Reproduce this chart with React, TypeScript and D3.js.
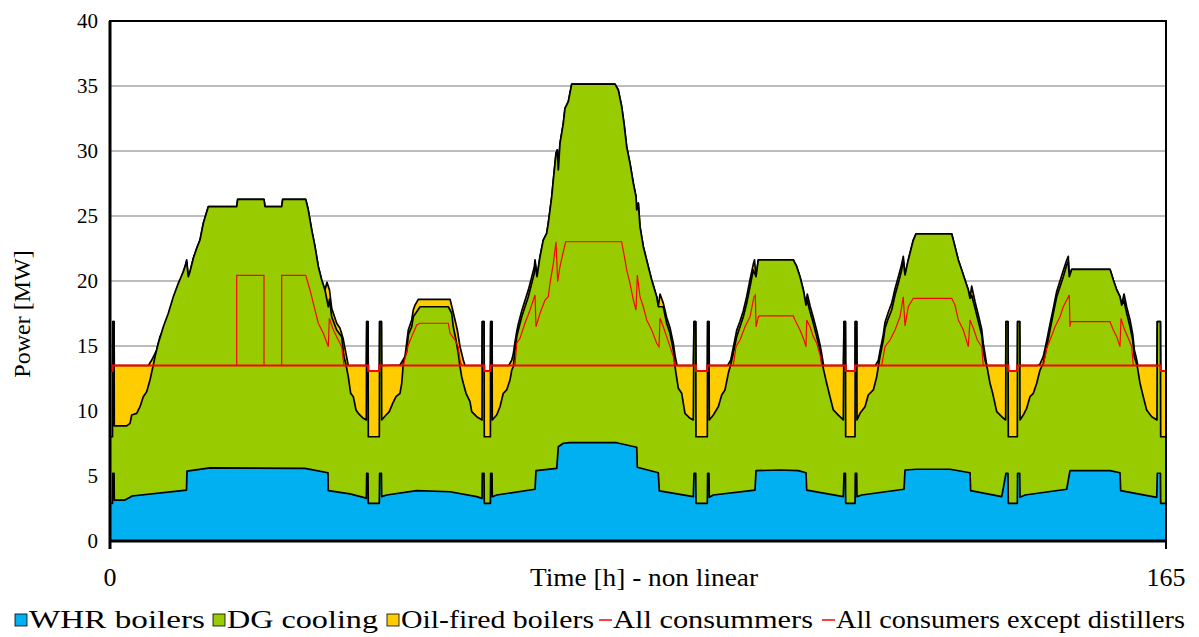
import React from "react";
import * as d3 from "d3";

type P = [number, number];

// y axis ticks (MW) and x axis labels (h)
const yTicks = [0, 5, 10, 15, 20, 25, 30, 35, 40];
const xTickLabels: [number, string][] = [[0, "0"], [165, "165"]];

// WHR boilers output [h, MW]
const whrBoilers: P[] = [
  [0, 2.9], [0.39, 2.9], [0.44, 5.21], [0.63, 5.21], [0.67, 3.15], [2.34, 3.15], [3.13, 3.36], [3.44, 3.46],
  [11.95, 3.92], [12.03, 5.38], [15.63, 5.62], [30.47, 5.59], [34.06, 5.25], [34.11, 3.87], [37.5, 3.62],
  [39.58, 3.36], [40.05, 3.28], [40.11, 5.21], [40.31, 5.21], [40.36, 2.9], [42.08, 2.9], [42.13, 5.21],
  [42.41, 5.21], [42.45, 3.41], [43.23, 3.54], [47.92, 3.87], [53.13, 3.79], [57.3, 3.41], [58.13, 3.28],
  [58.17, 5.21], [58.44, 5.21], [58.48, 2.9], [59.44, 2.9], [59.48, 5.21], [59.69, 5.21], [59.73, 3.41],
  [60.42, 3.54], [66.41, 3.98], [66.56, 5.41], [69.8, 5.59], [70.05, 7.25], [70.83, 7.52], [71.88, 7.56],
  [79.17, 7.56], [82.3, 7.21], [82.39, 5.67], [85.67, 5.25], [85.83, 3.85], [91.14, 3.41], [91.25, 5.21],
  [91.52, 5.21], [91.56, 2.9], [93.33, 2.9], [93.38, 5.21], [93.59, 5.21], [93.64, 3.36], [94.27, 3.54],
  [100.78, 3.92], [100.94, 5.41], [104.69, 5.46], [107.55, 5.41], [108.75, 5.25], [108.86, 3.92],
  [114.58, 3.41], [114.69, 5.21], [114.91, 5.21], [114.95, 2.9], [116.41, 2.9], [116.45, 5.21], [116.67, 5.21],
  [116.72, 3.41], [117.45, 3.54], [124.06, 3.98], [124.22, 5.46], [126.05, 5.52], [131.25, 5.52],
  [134.38, 5.25], [134.48, 3.87], [139.33, 3.41], [140.0, 5.21], [140.31, 5.21], [140.36, 2.9], [141.77, 2.9],
  [141.81, 5.21], [142.14, 5.21], [142.19, 3.36], [142.97, 3.54], [149.48, 3.98], [150.0, 5.41],
  [156.25, 5.41], [157.81, 5.25], [157.92, 3.87], [163.55, 3.36], [163.64, 5.21], [164.13, 5.21],
  [164.17, 2.9], [165, 2.9],
];

// WHR boilers + DG cooling (stacked level) [h, MW]
const dgCoolingTop: P[] = [
  [0, 8.02], [0.39, 8.02], [0.44, 16.87], [0.63, 16.87], [0.67, 8.85], [2.61, 8.85], [3.13, 9.05], [3.39, 9.69],
  [4.17, 9.82], [4.69, 10.33], [5.2, 11.1], [5.73, 11.48], [6.25, 12.38], [6.52, 13.0], [6.77, 13.54],
  [7.03, 14.18], [7.55, 15.21], [8.33, 16.48], [9.11, 17.52], [9.89, 18.79], [10.67, 19.82], [11.45, 20.72],
  [11.98, 21.48], [12.23, 20.33], [12.5, 20.72], [13.02, 21.75], [13.55, 22.52], [14.06, 23.15], [14.58, 24.44],
  [15.36, 25.72], [19.8, 25.72], [19.95, 26.28], [24.06, 26.28], [24.22, 25.72], [26.83, 25.72], [26.98, 26.28],
  [30.58, 26.28], [30.98, 25.46], [31.52, 23.92], [32.03, 22.64], [32.55, 21.1], [33.08, 20.08], [33.59, 19.31],
  [34.11, 18.02], [34.3, 18.6], [34.64, 17.25], [35.42, 16.23], [36.2, 15.72], [36.56, 14.18], [36.88, 13.54],
  [37.23, 12.64], [37.61, 11.36], [38.02, 11.1], [38.44, 10.08], [38.8, 9.82], [39.58, 9.44], [40.05, 9.31],
  [40.11, 16.87], [40.31, 16.87], [40.36, 8.02], [42.08, 8.02], [42.13, 16.87], [42.41, 16.87], [42.45, 9.31],
  [43.13, 9.69], [43.64, 9.95], [44.17, 10.59], [44.69, 11.1], [45.31, 11.36], [45.58, 12.13], [45.73, 13.02],
  [45.83, 13.79], [46.36, 14.56], [46.61, 15.85], [47.14, 16.48], [47.39, 17.25], [47.92, 17.64], [48.44, 18.02],
  [52.86, 18.02], [53.39, 17.52], [53.64, 16.48], [54.06, 15.46], [54.42, 14.44], [54.69, 13.41], [54.95, 12.64],
  [55.2, 12.13], [55.63, 11.36], [56.25, 10.72], [56.52, 9.95], [57.3, 9.56], [58.13, 9.31], [58.17, 16.87],
  [58.44, 16.87], [58.48, 8.02], [59.44, 8.02], [59.48, 16.87], [59.69, 16.87], [59.73, 9.31], [60.42, 9.69],
  [60.94, 10.33], [61.45, 11.36], [61.98, 11.62], [62.5, 12.38], [62.77, 13.15], [63.02, 13.41], [63.28, 14.69],
  [63.55, 15.72], [63.8, 16.23], [64.33, 17.25], [64.84, 18.02], [65.36, 18.79], [65.89, 19.82], [66.3, 20.6],
  [66.41, 21.48], [66.72, 20.33], [67.19, 21.87], [67.7, 23.15], [68.23, 23.67], [68.48, 24.44], [68.75, 25.46],
  [69.02, 26.48], [69.27, 27.77], [69.69, 29.82], [69.89, 30.08], [70.05, 28.54], [70.31, 30.59], [70.83, 32.13],
  [71.09, 33.28], [71.61, 33.79], [72.14, 35.15], [78.91, 35.15], [79.42, 34.69], [79.95, 33.41], [80.31, 32.13],
  [80.73, 30.33], [81.25, 29.05], [81.77, 27.52], [82.19, 26.48], [82.3, 25.46], [82.55, 26.0], [82.81, 24.18],
  [83.33, 22.64], [84.11, 21.1], [84.64, 20.08], [85.42, 18.79], [85.67, 18.02], [86.45, 18.02], [86.98, 16.75],
  [87.5, 15.98], [88.02, 14.69], [88.28, 13.41], [88.8, 11.75], [89.33, 11.36], [89.84, 9.82], [90.63, 9.44],
  [91.14, 9.31], [91.25, 16.87], [91.52, 16.87], [91.56, 8.02], [93.33, 8.02], [93.38, 16.87], [93.59, 16.87],
  [93.64, 9.31], [94.27, 9.69], [95.05, 10.33], [95.58, 11.23], [96.09, 11.62], [96.61, 12.9], [96.98, 13.54],
  [97.39, 14.44], [97.92, 15.72], [98.44, 16.48], [98.95, 17.25], [99.48, 18.28], [100.0, 19.56], [100.52, 20.85],
  [100.94, 20.33], [101.3, 21.62], [106.77, 21.62], [107.3, 21.1], [107.81, 20.33], [108.33, 19.31],
  [108.75, 18.15], [108.95, 18.5], [109.38, 17.64], [109.89, 16.75], [110.42, 15.72], [110.94, 14.69],
  [111.2, 13.92], [111.45, 13.28], [111.98, 12.13], [112.5, 11.1], [113.02, 10.08], [113.8, 9.69], [114.58, 9.31],
  [114.69, 16.87], [114.91, 16.87], [114.95, 8.02], [116.41, 8.02], [116.45, 16.87], [116.67, 16.87],
  [116.72, 9.31], [117.19, 9.82], [117.97, 10.33], [118.48, 11.23], [119.27, 11.62], [119.8, 12.64],
  [120.05, 13.41], [120.31, 14.18], [120.83, 15.46], [121.09, 16.36], [121.61, 17.13], [122.14, 17.77],
  [122.66, 18.92], [123.17, 19.82], [123.7, 20.85], [123.95, 21.62], [124.22, 20.46], [124.73, 21.62],
  [125.52, 23.15], [125.94, 23.62], [131.52, 23.62], [132.03, 22.64], [132.55, 21.62], [133.08, 20.85],
  [133.59, 20.08], [134.11, 19.31], [134.38, 18.67], [134.64, 18.9], [135.16, 17.92], [135.67, 16.9],
  [136.2, 15.87], [136.45, 14.69], [136.72, 13.92], [137.08, 13.28], [137.5, 12.13], [137.92, 11.36],
  [138.55, 9.95], [139.33, 9.56], [139.95, 9.31], [140.0, 16.87], [140.31, 16.87], [140.36, 8.02],
  [141.77, 8.02], [141.81, 16.87], [142.14, 16.87], [142.19, 9.31], [142.7, 9.69], [143.23, 10.21],
  [143.75, 11.1], [144.27, 11.36], [144.8, 12.13], [145.31, 13.15], [145.83, 13.67], [146.36, 14.95],
  [146.88, 16.23], [147.39, 17.52], [147.92, 18.79], [148.44, 19.56], [148.95, 20.33], [149.48, 21.23],
  [149.73, 21.48], [149.89, 20.33], [150.27, 20.9], [156.25, 20.9], [156.77, 20.08], [157.3, 19.31],
  [157.81, 18.79], [158.08, 18.15], [158.44, 18.5], [158.86, 17.52], [159.38, 16.48], [159.8, 15.46],
  [160.05, 14.18], [160.31, 13.79], [160.52, 13.41], [160.94, 12.13], [161.45, 11.1], [161.98, 10.08],
  [162.77, 9.56], [163.59, 9.31], [163.64, 16.87], [164.13, 16.87], [164.17, 8.02], [165, 8.02],
];

// WHR + DG + Oil-fired boilers (total stacked level) [h, MW]
const oilFiredTop: P[] = [
  [0, 13.08], [0.39, 13.08], [0.44, 16.87], [0.63, 16.87], [0.67, 13.5], [6.0, 13.5], [6.52, 13.92],
  [7.29, 14.69], [7.81, 15.72], [8.59, 16.48], [9.38, 17.77], [10.16, 18.92], [10.94, 19.95], [11.72, 21.1],
  [11.98, 21.62], [12.23, 20.33], [12.5, 20.72], [13.02, 21.75], [13.55, 22.52], [14.06, 23.15], [14.58, 24.44],
  [15.36, 25.72], [19.8, 25.72], [19.95, 26.28], [24.06, 26.28], [24.22, 25.72], [26.83, 25.72], [26.98, 26.28],
  [30.58, 26.28], [30.98, 25.46], [31.52, 23.92], [32.03, 22.64], [32.55, 21.1], [33.08, 20.08], [33.59, 19.31],
  [33.9, 19.9], [34.3, 19.3], [34.64, 17.9], [35.42, 16.75], [35.94, 16.36], [36.41, 15.6], [36.88, 14.4],
  [37.23, 13.5], [40.05, 13.5], [40.11, 16.87], [40.31, 16.87], [40.36, 13.08], [42.08, 13.08], [42.13, 16.87],
  [42.41, 16.87], [42.45, 13.5], [45.31, 13.54], [46.09, 14.18], [46.61, 16.23], [47.14, 17.0], [47.39, 17.77],
  [47.66, 18.15], [48.17, 18.59], [53.13, 18.59], [53.39, 18.08], [53.91, 17.0], [54.27, 16.23], [54.69, 14.95],
  [55.2, 13.92], [55.47, 13.5], [58.13, 13.5], [58.17, 16.87], [58.44, 16.87], [58.48, 13.08], [59.44, 13.08],
  [59.48, 16.87], [59.69, 16.87], [59.73, 13.5], [62.3, 13.5], [62.77, 13.9], [63.02, 14.4], [63.28, 15.3],
  [63.55, 16.1], [63.8, 16.7], [64.33, 17.7], [64.84, 18.5], [65.36, 19.3], [65.89, 20.3], [66.3, 21.1],
  [66.41, 21.62], [66.72, 20.33], [67.19, 21.87], [67.7, 23.15], [68.23, 23.67], [68.48, 24.44], [68.75, 25.46],
  [69.02, 26.48], [69.27, 27.77], [69.69, 29.82], [69.89, 30.08], [70.05, 28.54], [70.31, 30.59], [70.83, 32.13],
  [71.09, 33.28], [71.61, 33.79], [72.14, 35.15], [78.91, 35.15], [79.42, 34.69], [79.95, 33.41], [80.31, 32.13],
  [80.73, 30.33], [81.25, 29.05], [81.77, 27.52], [82.19, 26.48], [82.3, 25.46], [82.55, 26.0], [82.81, 24.18],
  [83.33, 22.64], [84.11, 21.1], [84.64, 20.08], [85.42, 18.79], [85.67, 18.02], [85.94, 19.0], [86.45, 18.3],
  [86.98, 17.2], [87.5, 16.4], [88.02, 15.2], [88.28, 14.3], [88.6, 13.5], [91.14, 13.5], [91.25, 16.87],
  [91.52, 16.87], [91.56, 13.08], [93.33, 13.08], [93.38, 16.87], [93.59, 16.87], [93.64, 13.5], [96.5, 13.5],
  [96.98, 13.9], [97.39, 14.9], [97.92, 16.2], [98.44, 16.9], [98.95, 17.7], [99.48, 18.8], [100.0, 20.1],
  [100.52, 21.3], [100.7, 21.62], [100.94, 20.33], [101.3, 21.62], [106.77, 21.62], [107.3, 21.1],
  [107.81, 20.33], [108.33, 19.31], [108.75, 18.15], [108.95, 19.0], [109.38, 18.1], [109.89, 17.2],
  [110.42, 16.2], [110.94, 15.1], [111.2, 14.4], [111.5, 13.5], [114.58, 13.5], [114.69, 16.87],
  [114.91, 16.87], [114.95, 13.08], [116.41, 13.08], [116.45, 16.87], [116.67, 16.87], [116.72, 13.5],
  [119.6, 13.5], [120.05, 13.9], [120.31, 14.6], [120.83, 15.9], [121.09, 16.8], [121.61, 17.6], [122.14, 18.3],
  [122.66, 19.4], [123.17, 20.3], [123.7, 21.3], [123.95, 21.9], [124.22, 20.46], [124.73, 21.62],
  [125.52, 23.15], [125.94, 23.62], [131.52, 23.62], [132.03, 22.64], [132.55, 21.62], [133.08, 20.85],
  [133.59, 20.08], [134.11, 19.31], [134.38, 18.67], [134.64, 19.6], [135.16, 18.4], [135.67, 17.4],
  [136.2, 16.3], [136.45, 15.2], [136.72, 14.4], [137.0, 13.5], [139.95, 13.5], [140.0, 16.87], [140.31, 16.87],
  [140.36, 13.08], [141.77, 13.08], [141.81, 16.87], [142.14, 16.87], [142.19, 13.5], [144.9, 13.5],
  [145.31, 13.6], [145.83, 14.2], [146.36, 15.4], [146.88, 16.7], [147.39, 17.9], [147.92, 19.2], [148.44, 20.0],
  [148.95, 20.8], [149.48, 21.6], [149.73, 21.9], [149.89, 20.33], [150.27, 20.9], [156.25, 20.9],
  [156.77, 20.08], [157.3, 19.31], [157.81, 18.79], [158.08, 18.15], [158.44, 19.0], [158.86, 18.0],
  [159.38, 17.0], [159.8, 15.9], [160.05, 14.7], [160.31, 14.2], [160.6, 13.5], [163.59, 13.5], [163.64, 16.87],
  [164.13, 16.87], [164.17, 13.08], [165, 13.08],
];

// All consumers demand [h, MW]
const allConsumers: P[] = [
  [0, 13.08], [0.39, 13.08], [0.39, 13.5], [19.8, 13.5], [19.8, 20.44], [24.06, 20.44], [24.06, 13.5],
  [26.83, 13.5], [26.83, 20.44], [30.58, 20.44], [31.25, 19.31], [31.77, 18.28], [32.55, 16.75], [33.33, 15.98],
  [34.11, 14.95], [34.27, 17.13], [34.9, 16.23], [35.67, 15.46], [36.2, 14.95], [36.56, 13.5], [40.36, 13.5],
  [40.36, 13.08], [42.08, 13.08], [42.08, 13.5], [45.83, 13.5], [46.61, 15.08], [47.14, 15.72], [47.92, 16.62],
  [48.44, 16.75], [52.86, 16.75], [53.13, 15.98], [53.91, 15.46], [54.42, 14.95], [54.69, 13.92], [54.95, 13.5],
  [58.48, 13.5], [58.48, 13.08], [59.44, 13.08], [59.44, 13.5], [63.28, 13.5], [63.55, 15.21], [64.06, 15.59],
  [64.84, 16.75], [65.63, 17.77], [66.14, 18.54], [66.41, 18.92], [66.56, 16.48], [67.19, 17.52], [67.97, 18.54],
  [68.48, 18.79], [68.75, 19.82], [69.27, 21.36], [69.69, 23.02], [69.95, 19.95], [70.31, 21.1], [70.83, 22.25],
  [71.2, 23.02], [79.95, 23.02], [80.47, 21.62], [80.73, 20.85], [81.25, 19.82], [81.77, 18.54], [82.19, 17.77],
  [82.39, 20.46], [82.81, 18.79], [83.33, 18.02], [83.86, 17.0], [84.64, 16.23], [85.42, 15.21], [85.78, 14.95],
  [85.94, 17.13], [86.45, 16.48], [86.98, 15.72], [87.5, 14.95], [88.02, 14.18], [88.28, 13.5], [91.56, 13.5],
  [91.56, 13.08], [93.33, 13.08], [93.33, 13.5], [97.39, 13.5], [97.81, 14.95], [98.44, 15.46], [99.22, 16.48],
  [100.0, 17.25], [100.63, 18.79], [100.83, 18.92], [100.94, 16.48], [101.3, 17.25], [101.56, 17.31],
  [106.77, 17.31], [107.03, 17.0], [107.81, 16.23], [108.44, 15.46], [108.75, 14.95], [108.86, 17.0],
  [109.38, 16.48], [109.89, 15.72], [110.42, 15.21], [110.94, 14.31], [111.2, 13.5], [114.95, 13.5],
  [114.95, 13.08], [116.41, 13.08], [116.41, 13.5], [120.58, 13.5], [121.09, 14.95], [121.88, 15.46],
  [122.66, 16.23], [123.44, 17.25], [123.95, 18.79], [124.22, 16.54], [124.73, 18.02], [125.52, 18.67],
  [131.52, 18.67], [132.03, 18.15], [132.55, 17.0], [133.33, 16.23], [134.11, 14.95], [134.38, 17.0],
  [134.9, 16.36], [135.52, 15.46], [136.2, 14.95], [136.45, 13.5], [140.36, 13.5], [140.36, 13.08],
  [141.77, 13.08], [141.77, 13.5], [145.83, 13.5], [146.36, 14.82], [146.88, 15.46], [147.66, 16.48],
  [148.44, 17.25], [148.95, 18.02], [149.89, 18.92], [150.0, 16.48], [150.11, 16.87], [156.25, 16.87],
  [156.77, 16.23], [157.3, 15.72], [157.81, 14.95], [157.97, 17.13], [158.44, 16.36], [159.11, 15.59],
  [159.64, 14.95], [159.89, 13.5], [164.17, 13.5], [164.17, 13.08], [165, 13.08],
];

// All consumers except distillers [h, MW]
const exceptDistillers: P[] = [
  [0, 13.08], [0.39, 13.08], [0.39, 13.5], [40.36, 13.5], [40.36, 13.08], [42.08, 13.08], [42.08, 13.5],
  [58.48, 13.5], [58.48, 13.08], [59.44, 13.08], [59.44, 13.5], [91.56, 13.5], [91.56, 13.08], [93.33, 13.08],
  [93.33, 13.5], [114.95, 13.5], [114.95, 13.08], [116.41, 13.08], [116.41, 13.5], [140.36, 13.5],
  [140.36, 13.08], [141.77, 13.08], [141.77, 13.5], [164.17, 13.5], [164.17, 13.08], [165, 13.08],
];

const legendItems = [
  { label: "WHR boilers", kind: "box", color: "#00B0F0", x: 15, w: 176 },
  { label: "DG cooling", kind: "box", color: "#99CC00", x: 213, w: 151 },
  { label: "Oil-fired boilers", kind: "box", color: "#FFCC00", x: 387, w: 193 },
  { label: "All consummers", kind: "line", color: "#FF0000", x: 599, w: 200 },
  { label: "All consumers except distillers", kind: "line", color: "#FF0000", x: 822, w: 349 },
];

const FONT = "'Liberation Serif', 'Times New Roman', serif";

export default function App() {
  const W = 1199;
  const H = 637;
  const left = 110, right = 1166, top = 21, bottom = 541;
  const x = d3.scaleLinear().domain([0, 165]).range([left, right]);
  const y = d3.scaleLinear().domain([0, 40]).range([bottom, top]);
  const area = d3.area<P>().x((d) => x(d[0])).y0(y(0)).y1((d) => y(d[1]));
  const line = d3.line<P>().x((d) => x(d[0])).y((d) => y(d[1]));

  const layers = [
    { data: oilFiredTop, color: "#FFCC00" },
    { data: dgCoolingTop, color: "#99CC00" },
    { data: whrBoilers, color: "#00B0F0" },
  ];

  return (
    <svg width={W} height={H} style={{ position: "absolute", left: 0, top: 0, background: "#fff" }} fontFamily={FONT}>
      <rect x={0} y={0} width={W} height={H} fill="#fff" />
      {yTicks.slice(1, -1).map((t) => (
        <line key={t} x1={left} x2={right} y1={y(t)} y2={y(t)} stroke="#A6A6A6" strokeWidth={1.4} />
      ))}
      {layers.map((l, i) => (
        <path key={i} d={area(l.data) || ""} fill={l.color} stroke="#000" strokeWidth={1.7} strokeLinejoin="round" />
      ))}
      <path d={line(exceptDistillers) || ""} fill="none" stroke="#FF0000" strokeWidth={2} />
      <path d={line(allConsumers) || ""} fill="none" stroke="#FF0000" strokeWidth={1.2} />
      <rect x={left} y={top} width={right - left} height={bottom - top} fill="none" stroke="#000" strokeWidth={2} />
      <line x1={left} x2={left} y1={top} y2={bottom + 8} stroke="#000" strokeWidth={3} />
      <line x1={left} x2={right} y1={bottom} y2={bottom} stroke="#000" strokeWidth={3} />
      <line x1={right} x2={right} y1={bottom} y2={bottom + 8} stroke="#000" strokeWidth={2} />
      {yTicks.map((t) => (
        <text key={t} x={98} y={y(t)} dy="0.35em" textAnchor="end" fontSize={21} fill="#000">{t}</text>
      ))}
      {xTickLabels.map(([v, s]) => (
        <text key={s} x={x(v)} y={586} textAnchor="middle" fontSize={26} fill="#000">{s}</text>
      ))}
      <text x={644} y={586} textAnchor="middle" fontSize={26} fill="#000" textLength={228} lengthAdjust="spacingAndGlyphs">Time [h] - non linear</text>
      <text transform="translate(30,314) rotate(-90)" textAnchor="middle" fontSize={24} fill="#000">Power [MW]</text>
      {legendItems.map((it) => (
        <g key={it.label}>
          {it.kind === "box" ? (
            <rect x={it.x} y={614} width={12} height={12} fill={it.color} stroke="#000" strokeWidth={0.8} />
          ) : (
            <line x1={it.x} x2={it.x + 13} y1={620} y2={620} stroke={it.color} strokeWidth={1.5} />
          )}
          <text x={it.x + 14} y={628} fontSize={26} fill="#000" textLength={it.w} lengthAdjust="spacingAndGlyphs">{it.label}</text>
        </g>
      ))}
    </svg>
  );
}
